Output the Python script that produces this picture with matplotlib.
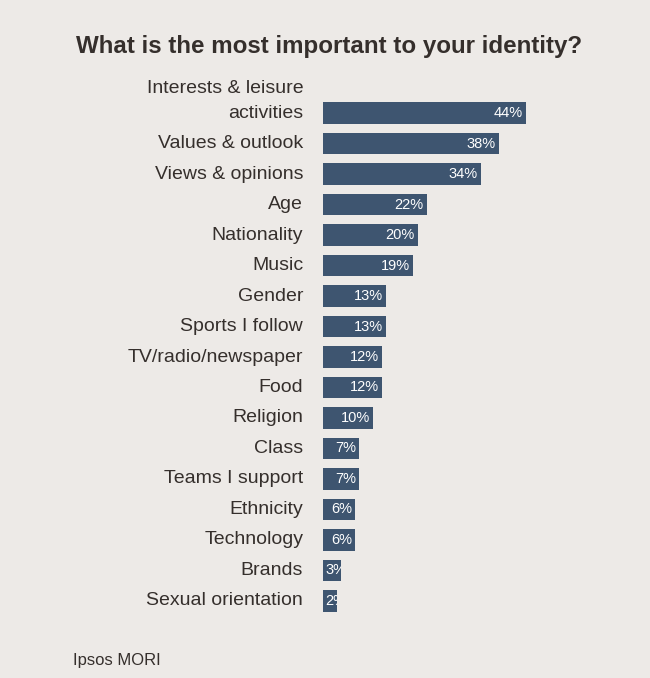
import matplotlib.pyplot as plt

# survey answers, top to bottom
categories = ["Interests & leisure\nactivities", "Values & outlook", "Views & opinions",
              "Age", "Nationality", "Music", "Gender", "Sports I follow",
              "TV/radio/newspaper", "Food", "Religion", "Class", "Teams I support",
              "Ethnicity", "Technology", "Brands", "Sexual orientation"]
percent = [44, 38, 34, 22, 20, 19, 13, 13, 12, 12, 10, 7, 7, 6, 6, 3, 2]

bg = '#edeae7'
bar_col = '#3e5570'
txt_col = '#352f2c'
plt.rcParams['font.family'] = ['Liberation Sans', 'DejaVu Sans']

fig = plt.figure(figsize=(6.5, 6.78), dpi=100, facecolor=bg)
ax = fig.add_axes([323/650, 0.0911, 277/650, 0.8558 - 0.0911])
ax.set_facecolor(bg)

#bars in the original have a small stub at the start, so start them a bit left of zero
stub = 1.1
rows = range(len(categories))
bars = ax.barh(rows, [p + stub for p in percent], left=-stub, height=0.69, color=bar_col)
ax.set_xlim(-stub, 277/4.5 - stub)
ax.set_ylim(len(categories) - 0.5, -0.5)
ax.axis('off')

#category names, right aligned left of the bars
for i, name in enumerate(categories):
    lines = name.split('\n')
    for k, line in enumerate(reversed(lines)):
        ax.text(-5.5, i - k*0.79, line, ha='right', va='center',
                fontsize=14, color=txt_col)

#value labels inside the bars, clipped to the bar
for b, v in zip(bars, percent):
    yc = b.get_y() + b.get_height()/2
    if v >= 6:
        t = ax.text(v - 0.7, yc, f"{v}%", ha='right', va='center',
                    fontsize=10.5, color='white', clip_on=True)
    else:
        t = ax.text(-stub + 0.45, yc, f"{v}%", ha='left', va='center',
                    fontsize=10.5, color='white', clip_on=True)
    t.set_clip_path(b)

fig.text(329/650, 1 - 46/678, "What is the most important to your identity?",
         ha='center', va='center', fontsize=17.4, fontweight='bold', color=txt_col)
fig.text(73/650, 1 - 660/678, "Ipsos MORI", ha='left', va='center',
         fontsize=12, color=txt_col)

fig.savefig('out.png', dpi=100, facecolor=bg)
